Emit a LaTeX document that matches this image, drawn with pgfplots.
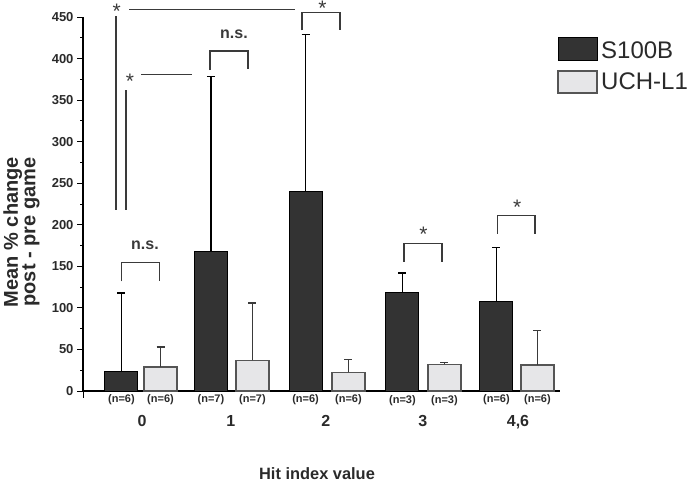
\documentclass[border=0pt]{standalone}
\usepackage{pgfplots}
\pgfplotsset{compat=1.18}
\usepackage{fontspec}
\setmainfont{Liberation Sans}
\definecolor{dark}{HTML}{333333}
\definecolor{light}{HTML}{E6E6E8}
\definecolor{lightedge}{HTML}{555555}
\definecolor{annot}{HTML}{3A3A3A}
\definecolor{txt}{HTML}{2A2A2A}
\tikzset{
  nlab/.style={font=\fontsize{11}{13}\selectfont\bfseries, text=txt},
  ann/.style={annot, line width=1.5pt},
  ast/.style={font=\fontsize{21}{21}\selectfont, text=annot, inner sep=0pt, anchor=center},
  ns/.style={font=\fontsize{16}{18}\selectfont\bfseries, text=annot, inner sep=0pt, anchor=center},
}
\begin{document}
\begin{tikzpicture}
\useasboundingbox (0,0) rectangle (689pt,483pt);
\begin{axis}[
  at={(83pt,92pt)}, anchor=south west,
  scale only axis, width=477pt, height=374pt,
  xmin=-0.595, xmax=4.458, ymin=0, ymax=450,
  axis x line*=bottom, axis y line*=left,
  axis line style={-, line width=1.3pt, black},
  clip=false,
  ytick={0,50,...,450}, minor y tick num=1,
  tick align=outside, major tick length=6pt, minor tick length=3pt,
  y tick style={line width=1pt, black},
  xtick={0.030,0.972,1.978,3.006,4.013}, xticklabels={0,1,2,3,{4,6}},
  x tick style={draw=none},
  /pgf/number format/assume math mode=true,
  yticklabel style={font=\fontsize{13}{15}\selectfont\bfseries, text=txt},
  xticklabel style={font=\fontsize{16}{18}\selectfont\bfseries, text=txt, anchor=base, yshift=-29pt},
  xlabel={Hit index value},
  xlabel style={font=\fontsize{16.4}{18}\selectfont\bfseries, text=txt, at={(axis description cs:0.4906,-0.222)}, anchor=center},
  bar width=33pt,
]
\addplot[ybar, bar shift=0pt, fill=dark, draw=black, line width=1pt,
  error bars/.cd, y dir=plus, y explicit,
  error bar style={line width=1.2pt, black},
  error mark options={rotate=90, mark size=4pt, line width=1.2pt, black}]
  coordinates {(-0.1875,23) +- (0,95) (0.760,168) +- (0,210) (1.763,240) +- (0,189) (2.789,118) +- (0,24) (3.785,107.5) +- (0,65.5)};
\addplot[ybar, bar shift=0pt, fill=light, draw=lightedge, line width=1.5pt,
  error bars/.cd, y dir=plus, y explicit,
  error bar style={line width=1.2pt, annot},
  error mark options={rotate=90, mark size=4pt, line width=1.2pt, annot}]
  coordinates {(0.226,29) +- (0,24) (1.200,37) +- (0,69) (2.217,22.5) +- (0,15.5) (3.234,32) +- (0,2) (4.219,31) +- (0,42)};
% n labels
\node[nlab] at (axis cs:-0.1875,-10.8) {(n=6)};
\node[nlab] at (axis cs:0.226,-10.8) {(n=6)};
\node[nlab] at (axis cs:0.760,-10.8) {(n=7)};
\node[nlab] at (axis cs:1.200,-10.8) {(n=7)};
\node[nlab] at (axis cs:1.763,-10.8) {(n=6)};
\node[nlab] at (axis cs:2.217,-10.8) {(n=6)};
\node[nlab] at (axis cs:2.789,-11.8) {(n=3)};
\node[nlab] at (axis cs:3.234,-11.8) {(n=3)};
\node[nlab] at (axis cs:3.785,-10.8) {(n=6)};
\node[nlab] at (axis cs:4.219,-10.8) {(n=6)};
% small tick at left end of x axis
\draw[line width=1pt, black] (rel axis cs:0,0) -- ([yshift=-7pt]rel axis cs:0,0);
% annotations
\draw[ann] (axis cs:-0.246,451) -- (axis cs:-0.246,218);
\draw[ann] (axis cs:-0.140,362) -- (axis cs:-0.140,218);
\draw[ann] (axis cs:-0.105,459) -- (axis cs:1.651,459);
\draw[ann] (axis cs:0.022,380.6) -- (axis cs:0.563,380.6);
\node[ast] at (axis cs:-0.238,456.5) {*};
\node[ast] at (axis cs:-0.097,373) {*};
% group 0 bracket
\draw[ann] (axis cs:-0.185,132) -- (axis cs:-0.185,154.4) -- (axis cs:0.214,154.4) -- (axis cs:0.214,132);
\node[ns] at (axis cs:0.061,175.7) {n.s.};
% group 1 bracket
\draw[ann] (axis cs:0.750,386) -- (axis cs:0.750,409) -- (axis cs:1.153,409) -- (axis cs:1.153,387);
\node[ns] at (axis cs:1.004,429.5) {n.s.};
% group 2 bracket
\draw[ann] (axis cs:1.725,434) -- (axis cs:1.725,455.5) -- (axis cs:2.127,455.5) -- (axis cs:2.127,434);
\node[ast] at (axis cs:1.942,460.5) {*};
% group 3 bracket
\draw[ann] (axis cs:2.805,155.6) -- (axis cs:2.805,177.7) -- (axis cs:3.208,177.7) -- (axis cs:3.208,155.6);
\node[ast] at (axis cs:3.011,188) {*};
% group 4 bracket
\draw[ann] (axis cs:3.798,189) -- (axis cs:3.798,211) -- (axis cs:4.193,211) -- (axis cs:4.193,189);
\node[ast] at (axis cs:4.005,220.5) {*};
\end{axis}
% y label
\node[rotate=90, align=center, font=\fontsize{20}{17.5}\selectfont\bfseries, text=txt, inner sep=0pt] at (21.5pt,251pt) {Mean \% change\\post - pre game};
% legend
\draw[fill=dark, draw=black, line width=1pt] (558pt,422pt) rectangle (597pt,445pt);
\draw[fill=light, draw=lightedge, line width=1.5pt] (558pt,390pt) rectangle (597pt,412pt);
\node[anchor=west, inner sep=0pt, font=\fontsize{24}{26}\selectfont, text=txt] at (601pt,433pt) {S100B};
\node[anchor=west, inner sep=0pt, font=\fontsize{24}{26}\selectfont, text=txt] at (601pt,401.5pt) {UCH-L1};
\end{tikzpicture}
\end{document}
